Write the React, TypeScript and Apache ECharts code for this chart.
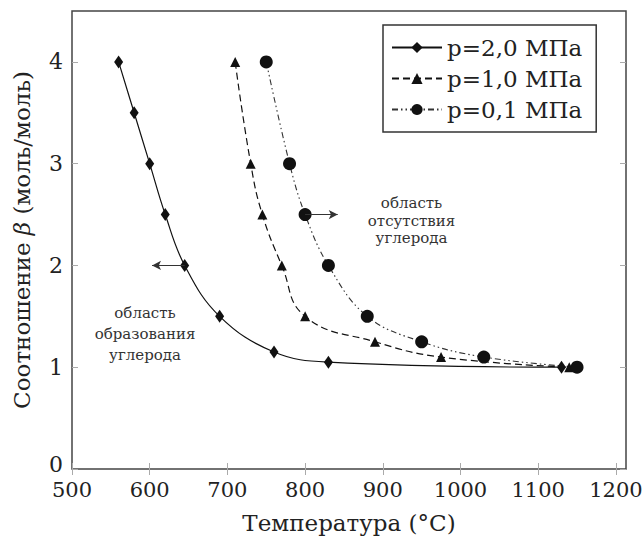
import React, { useEffect, useRef } from "react";
import * as echarts from "echarts";

const xTicks = [500, 600, 700, 800, 900, 1000, 1100, 1200];
const yTicks = [0, 1, 2, 3, 4];

const tempP20 = [560, 580, 600, 620, 645, 690, 760, 830, 1130];
const betaP20 = [4.0, 3.5, 3.0, 2.5, 2.0, 1.5, 1.15, 1.05, 1.0];

const tempP10 = [710, 730, 745, 770, 800, 890, 975, 1140];
const betaP10 = [4.0, 3.0, 2.5, 2.0, 1.5, 1.25, 1.1, 1.0];

const tempP01 = [750, 780, 800, 830, 880, 950, 1030, 1150];
const betaP01 = [4.0, 3.0, 2.5, 2.0, 1.5, 1.25, 1.1, 1.0];

const seriesNames = ["p=2,0 МПа", "p=1,0 МПа", "p=0,1 МПа"];

const FONT = "DejaVu Serif";

function zip(xs: number[], ys: number[]) {
  return xs.map((x, i) => [x, ys[i]]);
}

export default function App() {
  const ref = useRef<HTMLDivElement>(null);
  useEffect(() => {
    if (!ref.current) return;
    const chart = echarts.init(ref.current, null, { renderer: "svg" });
    const tickStyle = { show: true, inside: true, length: 6, lineStyle: { color: "#aaa", width: 1 } };
    const plain = (v: number) => String(v);
    chart.setOption({
      animation: false,
      backgroundColor: "#fff",
      textStyle: { fontFamily: FONT },
      grid: {
        left: 72,
        top: 11,
        right: 17,
        bottom: 77,
        containLabel: false,
        outerBoundsMode: "none",
        show: true,
        borderColor: "#444",
        borderWidth: 1.5,
        backgroundColor: "transparent",
      },
      legend: {
        left: 383,
        top: 25,
        orient: "vertical",
        data: seriesNames,
        backgroundColor: "#fff",
        borderColor: "#333",
        borderWidth: 1.5,
        borderRadius: 0,
        padding: [11, 14, 11, 8],
        itemGap: 8,
        itemWidth: 50,
        itemHeight: 14,
        textStyle: { fontFamily: FONT, fontSize: 23, color: "#222" },
      },
      xAxis: [
        {
          type: "value",
          min: 500,
          max: 1213,
          interval: 100,
          name: "Температура (°C)",
          nameLocation: "middle",
          nameGap: 42,
          nameTextStyle: { fontFamily: FONT, fontSize: 23, color: "#222" },
          axisLine: { show: false },
          splitLine: { show: false },
          axisTick: { ...tickStyle, customValues: xTicks },
          axisLabel: { customValues: xTicks, formatter: plain, fontFamily: FONT, fontSize: 21, color: "#222", margin: 10 },
        },
        {
          type: "value",
          position: "top",
          min: 500,
          max: 1213,
          interval: 100,
          axisLine: { show: false },
          splitLine: { show: false },
          axisTick: { ...tickStyle, customValues: xTicks },
          axisLabel: { show: false },
        },
      ],
      yAxis: [
        {
          type: "value",
          min: 0,
          max: 4.5,
          interval: 1,
          name: "Соотношение {i|β} (моль/моль)",
          nameLocation: "middle",
          nameGap: 39,
          nameTextStyle: {
            fontFamily: FONT,
            fontSize: 23,
            color: "#222",
            rich: { i: { fontFamily: FONT, fontStyle: "italic", fontSize: 23, color: "#222" } },
          },
          axisLine: { show: false },
          splitLine: { show: false },
          axisTick: { ...tickStyle, customValues: yTicks },
          axisLabel: {
            customValues: yTicks,
            formatter: (v: number) => (v === 0 ? "{z|0}" : String(v)),
            rich: { z: { fontFamily: FONT, fontSize: 22, color: "#222", padding: [0, 0, 10, 0] } },
            fontFamily: FONT,
            fontSize: 22,
            color: "#222",
            margin: 9,
          },
        },
        {
          type: "value",
          position: "right",
          min: 0,
          max: 4.5,
          interval: 1,
          axisLine: { show: false },
          splitLine: { show: false },
          axisTick: { ...tickStyle, customValues: yTicks },
          axisLabel: { show: false },
        },
      ],
      series: [
        {
          name: seriesNames[0],
          type: "line",
          smooth: 0.4,
          data: zip(tempP20, betaP20),
          symbol: "diamond",
          symbolSize: [9, 13],
          itemStyle: { color: "#111" },
          lineStyle: { color: "#111", width: 1.2, type: "solid" },
          z: 3,
          markLine: {
            silent: true,
            symbol: ["none", "arrow"],
            symbolSize: [7, 9],
            label: { show: false },
            lineStyle: { color: "#333", width: 1, type: "solid" },
            data: [[{ coord: [645, 2] }, { coord: [603, 2] }]],
          },
          markPoint: {
            silent: true,
            symbol: "rect",
            symbolSize: 1,
            itemStyle: { color: "transparent" },
            label: {
              show: true,
              position: "inside",
              formatter: "область\nобразования\nуглерода",
              fontFamily: FONT,
              fontSize: 15,
              lineHeight: 21,
              color: "#333",
              align: "center",
            },
            data: [{ coord: [594, 1.33] }],
          },
        },
        {
          name: seriesNames[1],
          type: "line",
          smooth: 0.45,
          data: zip(tempP10, betaP10),
          symbol: "triangle",
          symbolSize: 10,
          itemStyle: { color: "#111" },
          lineStyle: { color: "#111", width: 1.2, type: [7, 4] },
          z: 3,
        },
        {
          name: seriesNames[2],
          type: "line",
          smooth: 0.4,
          data: zip(tempP01, betaP01),
          symbol: "circle",
          symbolSize: 13,
          itemStyle: { color: "#111" },
          lineStyle: { color: "#333", width: 1.1, type: [6, 3, 1.5, 3, 1.5, 3] },
          z: 3,
          markLine: {
            silent: true,
            symbol: ["none", "arrow"],
            symbolSize: [7, 9],
            label: { show: false },
            lineStyle: { color: "#333", width: 1, type: "solid" },
            data: [[{ coord: [800, 2.5] }, { coord: [842, 2.5] }]],
          },
          markPoint: {
            silent: true,
            symbol: "rect",
            symbolSize: 1,
            itemStyle: { color: "transparent" },
            label: {
              show: true,
              position: "inside",
              formatter: "область\nотсутствия\nуглерода",
              fontFamily: FONT,
              fontSize: 15,
              lineHeight: 17.5,
              color: "#333",
              align: "center",
            },
            data: [{ coord: [937, 2.44] }],
          },
        },
      ],
    });
    return () => chart.dispose();
  }, []);
  return <div ref={ref} style={{ position: "fixed", left: 0, top: 0, width: 643, height: 546 }} />;
}
